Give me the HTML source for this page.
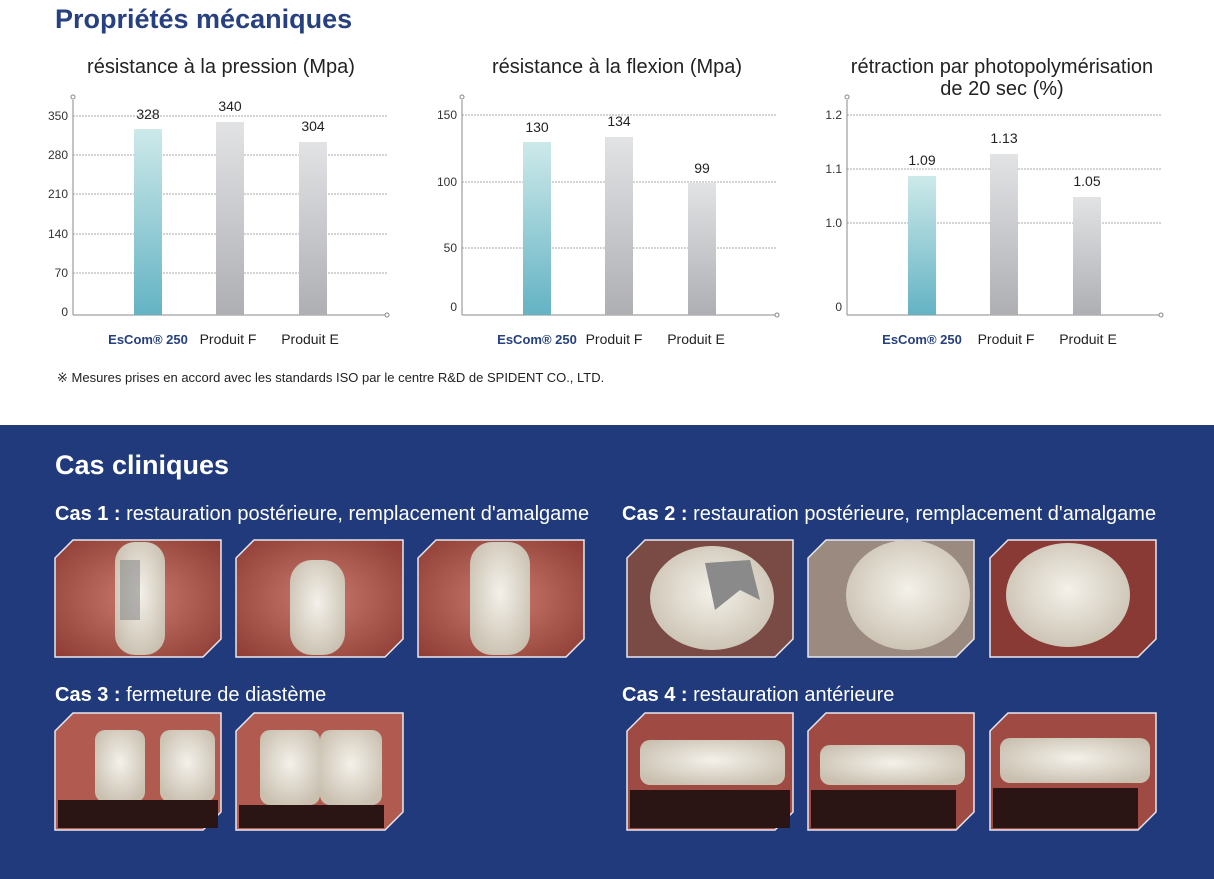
<!DOCTYPE html>
<html><head><meta charset="utf-8"><style>
html,body{margin:0;padding:0;width:1214px;height:879px;overflow:hidden;background:#fff}
svg{display:block}
text{font-family:"Liberation Sans",sans-serif}
</style></head><body>
<svg width="1214" height="879" viewBox="0 0 1214 879" xmlns="http://www.w3.org/2000/svg">
<defs>
<linearGradient id="gt" x1="0" y1="0" x2="0" y2="1"><stop offset="0" stop-color="#cde9e9"/><stop offset="1" stop-color="#64b3c4"/></linearGradient>
<linearGradient id="gg" x1="0" y1="0" x2="0" y2="1"><stop offset="0" stop-color="#e2e3e5"/><stop offset="1" stop-color="#aeafb3"/></linearGradient>
<radialGradient id="pk" cx="0.5" cy="0.5" r="0.7"><stop offset="0" stop-color="#c97a6c"/><stop offset="1" stop-color="#8e3c34"/></radialGradient>
<radialGradient id="th" cx="0.5" cy="0.45" r="0.6"><stop offset="0" stop-color="#f4f1ea"/><stop offset="1" stop-color="#c9c0b0"/></radialGradient>
</defs>
<rect x="0" y="0" width="1214" height="425" fill="#fff"/>
<text x="55" y="28" font-size="27" font-weight="bold" fill="#27407f">Propriétés mécaniques</text>

<!-- chart 1 -->
<g font-size="20" fill="#222" text-anchor="middle"><text x="221" y="73">résistance à la pression (Mpa)</text><text x="617" y="73">résistance à la flexion (Mpa)</text><text x="1002" y="73">rétraction par photopolymérisation</text><text x="1002" y="95">de 20 sec (%)</text></g>

<g stroke="#aaa" stroke-width="1" stroke-dasharray="2,1">
<line x1="73" y1="116" x2="387" y2="116"/><line x1="73" y1="155" x2="387" y2="155"/><line x1="73" y1="194" x2="387" y2="194"/><line x1="73" y1="234" x2="387" y2="234"/><line x1="73" y1="273" x2="387" y2="273"/>
<line x1="462" y1="115" x2="777" y2="115"/><line x1="462" y1="182" x2="777" y2="182"/><line x1="462" y1="248" x2="777" y2="248"/>
<line x1="847" y1="115" x2="1161" y2="115"/><line x1="847" y1="169" x2="1161" y2="169"/><line x1="847" y1="223" x2="1161" y2="223"/>
</g>
<g stroke="#888" stroke-width="1" fill="#fff">
<line x1="73" y1="100" x2="73" y2="315"/><line x1="73" y1="315" x2="385" y2="315"/><circle cx="73" cy="97" r="2"/><circle cx="387" cy="315" r="2"/>
<line x1="462" y1="100" x2="462" y2="315"/><line x1="462" y1="315" x2="775" y2="315"/><circle cx="462" cy="97" r="2"/><circle cx="777" cy="315" r="2"/>
<line x1="847" y1="100" x2="847" y2="315"/><line x1="847" y1="315" x2="1159" y2="315"/><circle cx="847" cy="97" r="2"/><circle cx="1161" cy="315" r="2"/>
</g>
<rect x="134" y="129" width="28" height="186" fill="url(#gt)"/><rect x="216" y="122" width="28" height="193" fill="url(#gg)"/><rect x="299" y="142" width="28" height="173" fill="url(#gg)"/>
<rect x="523" y="142" width="28" height="173" fill="url(#gt)"/><rect x="605" y="137" width="28" height="178" fill="url(#gg)"/><rect x="688" y="183" width="28" height="132" fill="url(#gg)"/>
<rect x="908" y="176" width="28" height="139" fill="url(#gt)"/><rect x="990" y="154" width="28" height="161" fill="url(#gg)"/><rect x="1073" y="197" width="28" height="118" fill="url(#gg)"/>

<g font-size="12" fill="#333" text-anchor="end">
<text x="68" y="120">350</text><text x="68" y="159">280</text><text x="68" y="198">210</text><text x="68" y="238">140</text><text x="68" y="277">70</text><text x="68" y="316">0</text>
<text x="457" y="119">150</text><text x="457" y="186">100</text><text x="457" y="252">50</text><text x="457" y="311">0</text>
<text x="842" y="119">1.2</text><text x="842" y="173">1.1</text><text x="842" y="227">1.0</text><text x="842" y="311">0</text>
</g>
<g font-size="14" fill="#222" text-anchor="middle">
<text x="148" y="119">328</text><text x="230" y="111">340</text><text x="313" y="131">304</text>
<text x="537" y="132">130</text><text x="619" y="126">134</text><text x="702" y="173">99</text>
<text x="922" y="165">1.09</text><text x="1004" y="143">1.13</text><text x="1087" y="186">1.05</text>
</g>
<g font-size="14" text-anchor="middle">
<text x="148" y="344" fill="#27407f" font-weight="bold" font-size="13">EsCom® 250</text><text x="228" y="344" fill="#222">Produit F</text><text x="310" y="344" fill="#222">Produit E</text>
<text x="537" y="344" fill="#27407f" font-weight="bold" font-size="13">EsCom® 250</text><text x="614" y="344" fill="#222">Produit F</text><text x="696" y="344" fill="#222">Produit E</text>
<text x="922" y="344" fill="#27407f" font-weight="bold" font-size="13">EsCom® 250</text><text x="1006" y="344" fill="#222">Produit F</text><text x="1088" y="344" fill="#222">Produit E</text>
</g>
<text x="57" y="382" font-size="13" fill="#222">※ Mesures prises en accord avec les standards ISO par le centre R&amp;D de SPIDENT CO., LTD.</text>

<!-- blue section -->
<rect x="0" y="425" width="1214" height="454" fill="#203a7b"/>
<text x="55" y="474" font-size="27" font-weight="bold" fill="#fff">Cas cliniques</text>
<g font-size="20" fill="#fff">
<text x="55" y="520"><tspan font-weight="bold">Cas 1 :</tspan> restauration postérieure, remplacement d'amalgame</text>
<text x="622" y="520"><tspan font-weight="bold">Cas 2 :</tspan> restauration postérieure, remplacement d'amalgame</text>
<text x="55" y="701"><tspan font-weight="bold">Cas 3 :</tspan> fermeture de diastème</text>
<text x="622" y="701"><tspan font-weight="bold">Cas 4 :</tspan> restauration antérieure</text>
</g>
<!-- photos -->
<g stroke="#e8e8f0" stroke-width="1.5">
<polygon points="73,540 221,540 221,639 203,657 55,657 55,558" fill="url(#pk)"/>
<polygon points="254,540 403,540 403,639 385,657 236,657 236,558" fill="url(#pk)"/>
<polygon points="436,540 584,540 584,639 566,657 418,657 418,558" fill="url(#pk)"/>
<polygon points="645,540 793,540 793,639 775,657 627,657 627,558" fill="#7a4a44"/>
<polygon points="826,540 974,540 974,639 956,657 808,657 808,558" fill="#9a8a80"/>
<polygon points="1008,540 1156,540 1156,639 1138,657 990,657 990,558" fill="#8a3a34"/>
<polygon points="73,713 221,713 221,812 203,830 55,830 55,731" fill="#b05a50"/>
<polygon points="254,713 403,713 403,812 385,830 236,830 236,731" fill="#b05a50"/>
<polygon points="645,713 793,713 793,812 775,830 627,830 627,731" fill="#a04a44"/>
<polygon points="826,713 974,713 974,812 956,830 808,830 808,731" fill="#a04a44"/>
<polygon points="1008,713 1156,713 1156,812 1138,830 990,830 990,731" fill="#a04a44"/>
</g>
<g fill="url(#th)">
<rect x="115" y="542" width="50" height="113" rx="20"/>
<rect x="290" y="560" width="55" height="95" rx="22"/>
<rect x="470" y="542" width="60" height="113" rx="22"/>
<ellipse cx="712" cy="598" rx="62" ry="52"/>
<ellipse cx="908" cy="595" rx="62" ry="55"/>
<ellipse cx="1068" cy="595" rx="62" ry="52"/>
<rect x="95" y="730" width="50" height="72" rx="10"/><rect x="160" y="730" width="55" height="72" rx="10"/>
<rect x="260" y="730" width="60" height="75" rx="10"/><rect x="320" y="730" width="62" height="75" rx="10"/>
<rect x="640" y="740" width="145" height="45" rx="10"/>
<rect x="820" y="745" width="145" height="40" rx="10"/>
<rect x="1000" y="738" width="150" height="45" rx="10"/>
</g>
<g fill="#2a1414">
<rect x="58" y="800" width="160" height="28"/><rect x="239" y="805" width="145" height="23"/>
<rect x="630" y="790" width="160" height="38"/><rect x="811" y="790" width="145" height="38"/><rect x="993" y="788" width="145" height="40"/>
</g>
<g fill="#8a8a8a"><path d="M705,563 L750,560 L760,600 L740,590 L715,610 Z"/><rect x="120" y="560" width="20" height="60" opacity="0.6"/></g>
</svg>
</body></html>
